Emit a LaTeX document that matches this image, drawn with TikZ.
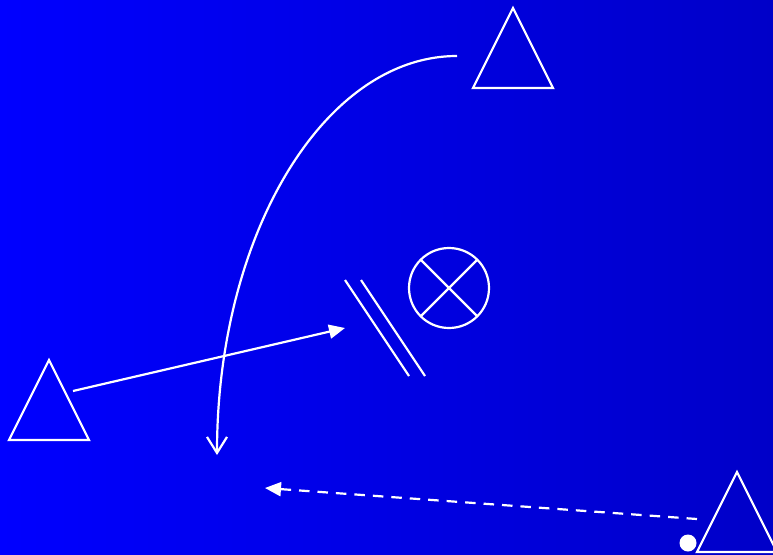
\documentclass[tikz,border=0pt]{standalone}
\usepackage{tikz}
\usetikzlibrary{arrows.meta,calc}
\definecolor{bgl}{RGB}{0,0,255}
\definecolor{bgr}{RGB}{0,0,200}

\begin{document}
\begin{tikzpicture}[
  x=1pt, y=-1pt,
  linie/.style={white, line width=2.2pt},
  pfeil/.style={white, line width=2.2pt, -{Triangle[length=16pt, width=14pt]}},
  bogen/.style={white, line width=2.2pt, -{Straight Barb[length=16pt, width=20pt]}},
  dreieck/.style={white, line width=2.2pt, line join=miter}
]

% ---------- Hintergrund ------------------------------------------
\useasboundingbox (0,0) rectangle (773,554);
\clip (0,0) rectangle (773,554);
\shade[left color=bgl, right color=bgr] (0,0) rectangle (773,554);

% ---------- Dreiecke ---------------------------------------------
\draw[dreieck] (513,8) -- (553,88) -- (473,88) -- cycle;
\draw[dreieck] (49,360) -- (89,440) -- (9,440) -- cycle;
\draw[dreieck] (737,472) -- (777,552) -- (697,552) -- cycle;
\fill[white] (688,543) circle (8.5);

% ---------- Kreuzkreis und Doppelstrich --------------------------
\coordinate (m) at (449,288);
\draw[linie] (m) circle (40);
\draw[linie] ($(m)+(-28.3,-28.3)$) -- ($(m)+(28.3,28.3)$);
\draw[linie] ($(m)+(28.3,-28.3)$) -- ($(m)+(-28.3,28.3)$);
\draw[linie] (345,280) -- (409,376);
\draw[linie] (361,280) -- (425,376);

% ---------- Pfeile -----------------------------------------------
\coordinate (a1) at (73,391);
\coordinate (a2) at (345,328);
\draw[pfeil] (a1) -- (a2);

\coordinate (b1) at (457,56);
\coordinate (b2) at (217,455);
\draw[bogen] (b1) .. controls (324,56) and (217,235) .. (b2);

\coordinate (c1) at (697,519);
\coordinate (c2) at (265,488);
\draw[pfeil, dash pattern=on 10.5pt off 8pt] (c1) -- (c2);

\end{tikzpicture}
\end{document}
